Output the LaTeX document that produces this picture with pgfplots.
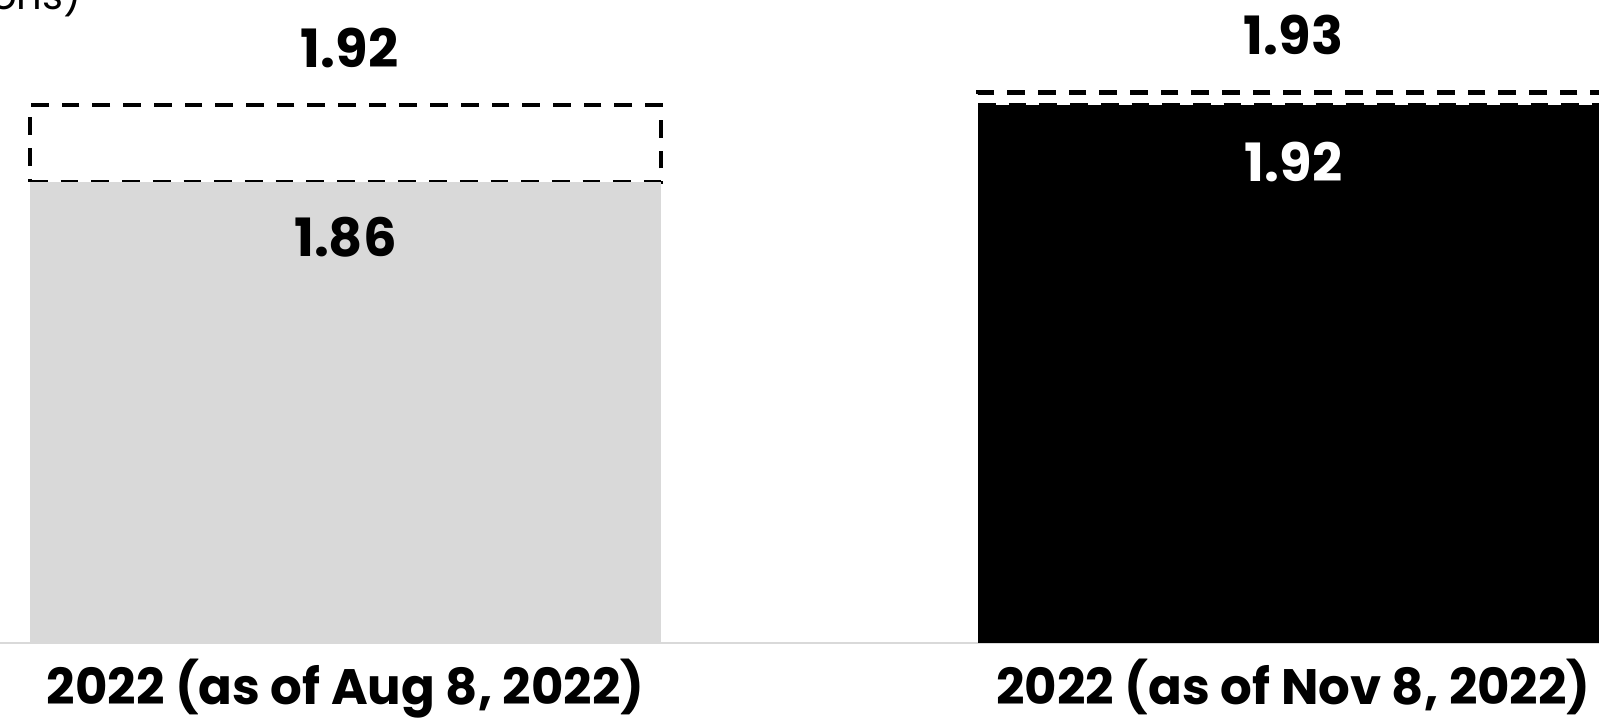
\documentclass[border=0pt]{standalone}
\usepackage{pgfplots}
\pgfplotsset{compat=1.18}
\usepackage{fontspec}
\setmainfont{Poppins}
\definecolor{barlight}{HTML}{D9D9D9}
\definecolor{axisline}{HTML}{D9D9D9}

\begin{document}
\begin{tikzpicture}
% frame of the picture (1 px = 0.5 pt)
\path[use as bounding box] (0,0) rectangle (799.5pt,360.5pt);
\clip (0,0) rectangle (799.5pt,360.5pt);

\begin{axis}[
  at={(0pt,39pt)}, anchor=south west,
  x=474pt, y=640pt,
  xmin=-0.3645, xmax=1.3223,
  ymin=1.5, ymax=2.0023,
  ybar stacked, bar width=315.5pt,
  axis x line=bottom, axis y line=none,
  x axis line style={draw=axisline, line width=1pt, -},
  xtick={0,1}, major tick length=0pt,
  xticklabels={{2022 (as of Aug 8, 2022)}, {2022 (as of Nov 8, 2022)}},
  xticklabel style={anchor=base, yshift=-31pt, font=\fontsize{24.9}{28}\selectfont\bfseries},
  ytick=\empty,
  clip=true,
]
% reported totals
\addplot[fill=barlight, draw=none] coordinates {(0,1.86) (1,0)};
\addplot[fill=black, draw=none] coordinates {(0,0) (1,1.92)};
% increase to the updated outlook
\addplot[fill=none, draw=black, line width=2.1pt, dash pattern=on 8.85pt off 6.5pt]
  coordinates {(0,0.06) (1,0.01)};

% anchors for the value labels
\coordinate (augtop) at (axis cs:0,1.92);
\coordinate (augbase) at (axis cs:0,1.86);
\coordinate (novtop) at (axis cs:1,1.93);
\coordinate (novbase) at (axis cs:1,1.92);
\end{axis}

\begin{scope}[every node/.style={anchor=base, font=\fontsize{26.4}{30}\selectfont\bfseries}]
\node at ([xshift=2pt,yshift=19pt]augtop) {1.92};
\node at ([yshift=-37pt]augbase) {1.86};
\node at ([yshift=19pt]novtop) {1.93};
\node[text=white] at ([yshift=-38pt]novbase) {1.92};
\end{scope}

\node[anchor=base east, font=\fontsize{20}{24}\selectfont, inner sep=0pt] at (41pt,355.5pt) {(in billions)};
\end{tikzpicture}
\end{document}
